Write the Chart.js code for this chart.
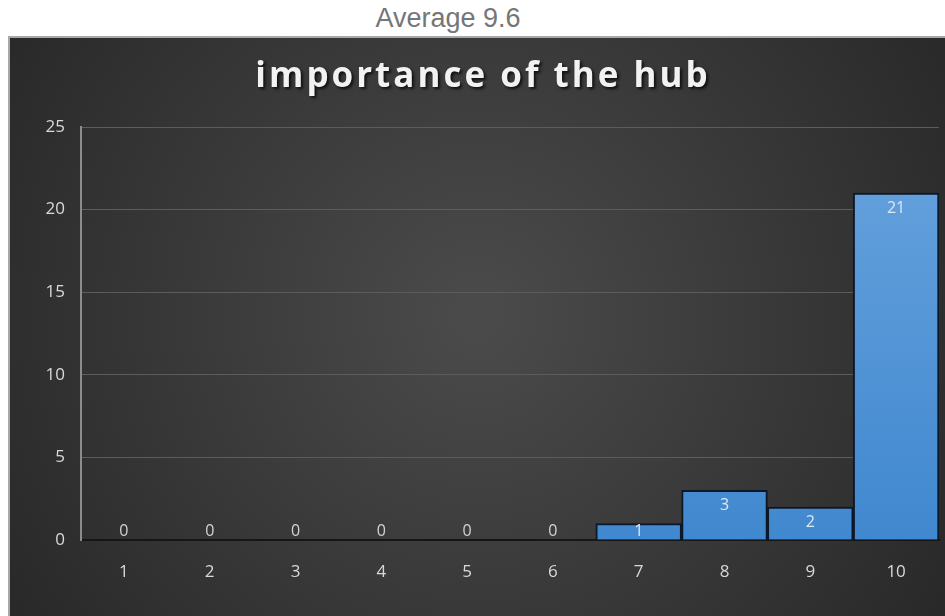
<!DOCTYPE html>
<html>
<head>
<meta charset="utf-8">
<script src="https://cdn.jsdelivr.net/npm/chart.js@4.4.1/dist/chart.umd.min.js"></script>
<style>
  html, body { margin: 0; padding: 0; background: #fff; width: 945px; height: 616px; overflow: hidden; }
  #avg { position: absolute; left: 0; width: 896px; top: 4px; text-align: center; line-height: 28px;
         font-family: "Liberation Sans", Arial, sans-serif;
         font-size: 27px; color: #767676; }
  #frame { position: absolute; left: 8px; top: 36px; border-left: 2px solid #a8a8a8; border-top: 2px solid #a8a8a8; }
  canvas { display: block; }
</style>
</head>
<body>
<div id="avg">Average 9.6</div>
<div id="frame"><canvas id="hubChart" width="935" height="578"></canvas></div>
<script>
const categories = ["1", "2", "3", "4", "5", "6", "7", "8", "9", "10"];
const counts = [0, 0, 0, 0, 0, 0, 1, 3, 2, 21];
const yTicks = [0, 5, 10, 15, 20, 25];
const chartTitle = "importance of the hub";

const labelFont = { size: 17, family: "'Open Sans', sans-serif" };

// dark radial backdrop behind everything
const backdrop = {
    id: "backdrop",
    beforeDraw(chart) {
        const { ctx, width, height } = chart;
        const g = ctx.createRadialGradient(width * 0.5, height * 0.48, 20, width * 0.5, height * 0.48, width * 0.62);
        g.addColorStop(0, "#4a4a4a");
        g.addColorStop(1, "#272727");
        ctx.save();
        ctx.fillStyle = g;
        ctx.fillRect(0, 0, width, height);
        ctx.restore();
    }
};

// spaced-out title with a drop shadow
const shadowTitle = {
    id: "shadowTitle",
    afterDraw(chart) {
        const ctx = chart.ctx;
        ctx.save();
        ctx.font = "bold 35px 'Open Sans', sans-serif";
        ctx.letterSpacing = "3px";
        ctx.textAlign = "center";
        ctx.textBaseline = "alphabetic";
        ctx.shadowColor = "rgba(0,0,0,0.75)";
        ctx.shadowOffsetX = 2;
        ctx.shadowOffsetY = 2;
        ctx.shadowBlur = 3;
        ctx.fillStyle = "#f2f2f2";
        ctx.fillText(chartTitle, 473, 49);
        ctx.restore();
    }
};

// value labels at the inner end of each bar
const barValues = {
    id: "barValues",
    afterDatasetsDraw(chart) {
        const ctx = chart.ctx;
        const meta = chart.getDatasetMeta(0);
        const base = chart.scales.y.getPixelForValue(0);
        ctx.save();
        ctx.font = "16px 'Open Sans', sans-serif";
        ctx.textAlign = "center";
        ctx.textBaseline = "middle";
        meta.data.forEach((bar, i) => {
            const v = counts[i];
            const y = Math.min(bar.y + 15, base - 9);
            ctx.fillStyle = v > 0 ? "#dde8f5" : "#d4d4d4";
            ctx.fillText(String(v), bar.x, y);
        });
        ctx.restore();
    }
};

const ctx = document.getElementById("hubChart").getContext("2d");

new Chart(ctx, {
    type: "bar",
    data: {
        labels: categories,
        datasets: [{
            data: counts,
            backgroundColor: (c) => {
                const area = c.chart.chartArea;
                if (!area) return "#4a8fd4";
                const g = c.chart.ctx.createLinearGradient(0, area.top, 0, area.bottom);
                g.addColorStop(0, "#68a3de");
                g.addColorStop(1, "#4088cf");
                return g;
            },
            borderColor: "#0c1728",
            borderWidth: 2,
            barPercentage: 1,
            categoryPercentage: 1
        }]
    },
    options: {
        responsive: false,
        animation: false,
        layout: { padding: { top: 89, right: 6, left: 0, bottom: 0 } },
        plugins: {
            legend: { display: false },
            tooltip: { enabled: false }
        },
        scales: {
            x: {
                grid: { display: false, drawTicks: false },
                border: { color: "#161616", width: 2 },
                ticks: { color: "#d9d9d9", font: labelFont, padding: 22 },
                afterFit: (s) => { s.height = 76; }
            },
            y: {
                min: 0,
                max: 25,
                afterBuildTicks: (s) => { s.ticks = yTicks.map((v) => ({ value: v })); },
                grid: { color: "#5c5c5c", lineWidth: 1, drawTicks: false },
                border: { color: "#8c8c8c", width: 2 },
                ticks: { color: "#d9d9d9", font: labelFont, padding: 16 },
                afterFit: (s) => { s.width = 71; }
            }
        }
    },
    plugins: [backdrop, shadowTitle, barValues]
});
</script>
</body>
</html>
